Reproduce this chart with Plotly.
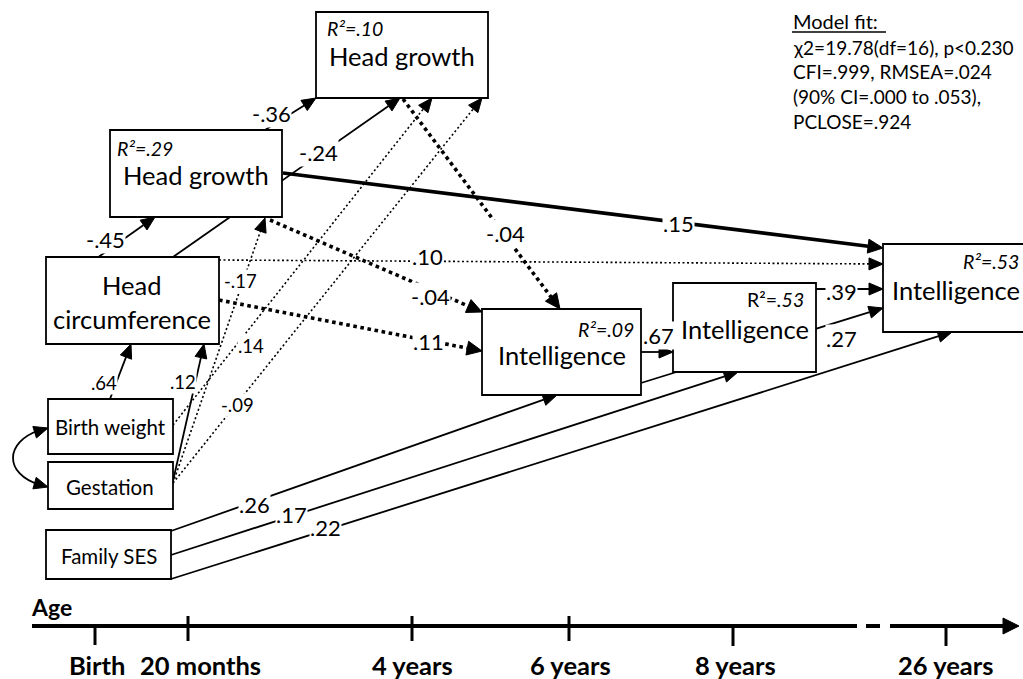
import math
import plotly.graph_objects as go

# ---------------- data ----------------
node_keys = ["BW", "GE", "SES", "HC", "HG1", "HG2", "I4", "I8", "I26"]
node_names = ["Birth weight", "Gestation", "Family SES", "Head<br>circumference",
              "Head growth", "Head growth", "Intelligence", "Intelligence", "Intelligence"]
node_r2 = [None, None, None, None, ".29", ".10", ".09", ".53", ".53"]

path_from = ["HC", "HC", "HG1", "HG1", "HC", "HG1", "HC", "HG2", "GE", "BW",
             "GE", "GE", "BW", "I4", "I8", "I4", "SES", "SES", "SES"]
path_to = ["HG1", "HG2", "HG2", "I26", "I26", "I4", "I4", "I4", "HG1", "HG2",
           "HG2", "HC", "HC", "I8", "I26", "I26", "I4", "I8", "I26"]
path_coef = ["-.45", "-.24", "-.36", ".15", ".10", "-.04", ".11", "-.04", "-.17", ".14",
             "-.09", ".12", ".64", ".67", ".39", ".27", ".26", ".17", ".22"]

age_labels = ["Birth", "20 months", "4 years", "6 years", "8 years", "26 years"]

fit_title = "Model fit:"
fit_lines = ["\u03c72=19.78(df=16), p<0.230",
             "CFI=.999, RMSEA=.024",
             "(90% CI=.000 to .053),",
             "PCLOSE=.924"]

# ---------------- layout (pixel geometry) ----------------
FONT = "Lato, Carlito, 'Open Sans', sans-serif"
W, H = 1023, 679

box_xy = {
    "BW": (48, 399, 173, 454), "GE": (48, 462, 173, 509), "SES": (46, 530, 171, 579),
    "HC": (46, 257, 219, 344), "HG1": (110, 130, 282, 217), "HG2": (316, 12, 488, 98),
    "I4": (482, 309, 641, 395), "I8": (673, 283, 816, 372), "I26": (883, 244, 1032, 332),
}
NAME_BIG = 25.5
NAME_SMALL = 20.5
name_pos = {
    "BW": (110, 427, NAME_SMALL), "GE": (110, 487, NAME_SMALL), "SES": (109, 556, NAME_SMALL),
    "HC": (132, 285, NAME_BIG), "HG1": (196, 175, NAME_BIG), "HG2": (402, 56, NAME_BIG),
    "I4": (562, 355, NAME_BIG), "I8": (745, 329, NAME_BIG), "I26": (956, 290, NAME_BIG),
}
r2_pos = {
    "HG1": (115, 148, "left"), "HG2": (325, 28, "left"), "I4": (636, 329, "right"),
    "I8": (806, 299, "right"), "I26": (1021, 261, "right"),
}
r2_upright_R = {"I8"}

CB, CS = 22, 18.5
# per path: start point, end point, style, label position, label size
path_geom = [
    ((97, 258), (155, 217), "solid", (105, 239), CB),
    ((173, 257), (400, 98), "solid", (318, 152), CB),
    ((265, 130), (316, 98), "solid", (271, 113), CB),
    ((283, 173), (883, 248), "thick", (678, 223), CB),
    ((219, 260), (883, 264), "dot", (427, 256), CB),
    ((270, 220), (482, 312), "thickdot", (430, 296), CB),
    ((219, 300), (482, 351), "thickdot", (428, 341), CB),
    ((403, 99), (560, 309), "thickdot", (505, 233), CB),
    ((173, 483), (265, 218), "dot", (240, 281), CS),
    ((173, 425), (432, 98), "dot", (251, 346), CS),
    ((173, 483), (482, 98), "dot", (237, 405), CS),
    ((173, 481), (204, 344), "solid", (183, 382), CS),
    ((110, 399), (131, 344), "solid", (104, 383), CS),
    ((641, 352), (673, 352), "solid", (658, 335), CB),
    ((816, 289), (883, 289), "solid", (841, 291), CB),
    ((641, 383), (883, 308), "solid", (841, 338), CB),
    ((171, 531), (557, 395), "solid", (254, 504), CB),
    ((171, 555), (738, 372), "solid", (291, 514), CB),
    ((171, 579), (952, 332), "solid", (325, 527), CB),
]
line_styles = {
    "solid": dict(width=1.8, dash="solid"),
    "thick": dict(width=3.5, dash="solid"),
    "dot": dict(width=1.6, dash="2px,2.5px"),
    "thickdot": dict(width=3.6, dash="3.6px,3.6px"),
}

age_tick_x = [95, 188, 412, 569, 733, 946]
age_tick_y = [(626, 645), (616, 641), (616, 641), (616, 641), (626, 646), (626, 646)]
age_label_x = [97, 200, 412, 570, 735, 945]

shapes = []
annotations = []


def arrow_head(p0, p1, L=14, Wd=6):
    dx, dy = p1[0] - p0[0], p1[1] - p0[1]
    n = math.hypot(dx, dy)
    ux, uy = dx / n, dy / n
    bx, by = p1[0] - L * ux, p1[1] - L * uy
    nx, ny = -uy, ux
    path = (f"M {p1[0]},{p1[1]} L {bx + Wd * nx},{by + Wd * ny} "
            f"L {bx - Wd * nx},{by - Wd * ny} Z")
    return path, (bx, by)


# paths
for i, coef in enumerate(path_coef):
    p0, p1, st, lp, ls = path_geom[i]
    big = st.startswith("thick")
    head, base = arrow_head(p0, p1, L=15 if big else 14, Wd=7 if big else 6)
    s = line_styles[st]
    shapes.append(dict(type="line", xref="x", yref="y", x0=p0[0], y0=p0[1],
                       x1=base[0], y1=base[1],
                       line=dict(color="black", width=s["width"], dash=s["dash"])))
    shapes.append(dict(type="path", xref="x", yref="y", path=head,
                       fillcolor="black", line=dict(color="black", width=1)))
    annotations.append(dict(x=lp[0], y=lp[1], xref="x", yref="y", text=coef,
                            showarrow=False, bgcolor="white", borderpad=0,
                            font=dict(family=FONT, size=ls, color="black")))

# covariance between birth weight and gestation
shapes.append(dict(type="path", xref="x", yref="y",
                   path="M 40,430 C 4,442 4,474 40,485",
                   line=dict(color="black", width=1.8)))
for tip, ctrl in (((48, 428), (10, 440)), ((48, 487), (10, 476))):
    hp, _ = arrow_head(ctrl, tip, L=14, Wd=6)
    shapes.append(dict(type="path", xref="x", yref="y", path=hp,
                       fillcolor="black", line=dict(color="black", width=1)))

# boxes and node labels
for k, name, r2 in zip(node_keys, node_names, node_r2):
    x0, y0, x1, y1 = box_xy[k]
    shapes.append(dict(type="rect", xref="x", yref="y", x0=x0, y0=y0, x1=x1, y1=y1,
                       fillcolor="white", line=dict(color="black", width=1.8)))
    cx, cy, fs = name_pos[k]
    for j, part in enumerate(name.split("<br>")):
        annotations.append(dict(x=cx, y=cy + j * 33.5, xref="x", yref="y", text=part,
                                showarrow=False,
                                font=dict(family=FONT, size=fs, color="black")))
    if r2 is not None:
        rx, ry, xa = r2_pos[k]
        txt = f"R\u00b2=<i>{r2}</i>" if k in r2_upright_R else f"<i>R\u00b2={r2}</i>"
        annotations.append(dict(x=rx, y=ry, xref="x", yref="y", text=txt,
                                showarrow=False, xanchor=xa,
                                font=dict(family=FONT, size=19.5, color="black")))

# model fit
FIT = 19
annotations.append(dict(x=791, y=21, xref="x", yref="y", text=fit_title,
                        showarrow=False, xanchor="left",
                        font=dict(family=FONT, size=20, color="black")))
shapes.append(dict(type="line", xref="x", yref="y", x0=792, y0=32, x1=886, y1=32,
                   line=dict(color="black", width=1.3)))
for j, t in enumerate(fit_lines):
    annotations.append(dict(x=791, y=47 + j * 24.7, xref="x", yref="y", text=t,
                            showarrow=False, xanchor="left",
                            font=dict(family=FONT, size=FIT, color="black")))

# age axis
axw = 4
shapes.append(dict(type="line", xref="x", yref="y", x0=32, y0=626, x1=857, y1=626,
                   line=dict(color="black", width=axw)))
shapes.append(dict(type="line", xref="x", yref="y", x0=866, y0=626, x1=880, y1=626,
                   line=dict(color="black", width=axw)))
shapes.append(dict(type="line", xref="x", yref="y", x0=890, y0=626, x1=1004, y1=626,
                   line=dict(color="black", width=axw)))
hp, _ = arrow_head((890, 626), (1019, 626), L=16, Wd=8)
shapes.append(dict(type="path", xref="x", yref="y", path=hp, fillcolor="black",
                   line=dict(color="black", width=1)))
for tx, (ty0, ty1), lab, lx in zip(age_tick_x, age_tick_y, age_labels, age_label_x):
    shapes.append(dict(type="line", xref="x", yref="y", x0=tx, y0=ty0, x1=tx, y1=ty1,
                       line=dict(color="black", width=3)))
    annotations.append(dict(x=lx, y=665, xref="x", yref="y", text=f"<b>{lab}</b>",
                            showarrow=False,
                            font=dict(family=FONT, size=25.5, color="black")))
annotations.append(dict(x=29, y=607, xref="x", yref="y", text="<b>Age</b>",
                        showarrow=False, xanchor="left",
                        font=dict(family=FONT, size=23, color="black")))

fig = go.Figure(go.Scatter(x=[0, W], y=[0, H], mode="markers",
                           marker=dict(opacity=0), hoverinfo="skip", showlegend=False))
fig.update_layout(
    width=W, height=H, autosize=False,
    margin=dict(l=0, r=0, t=0, b=0, pad=0),
    paper_bgcolor="white", plot_bgcolor="white",
    xaxis=dict(range=[0, W], visible=False, fixedrange=True),
    yaxis=dict(range=[H, 0], visible=False, fixedrange=True),
    shapes=shapes, annotations=annotations, showlegend=False,
)
fig.write_html("out.html", config={"displayModeBar": False, "staticPlot": True},
               post_script="document.body.style.margin='0';document.body.style.overflow='hidden';")
